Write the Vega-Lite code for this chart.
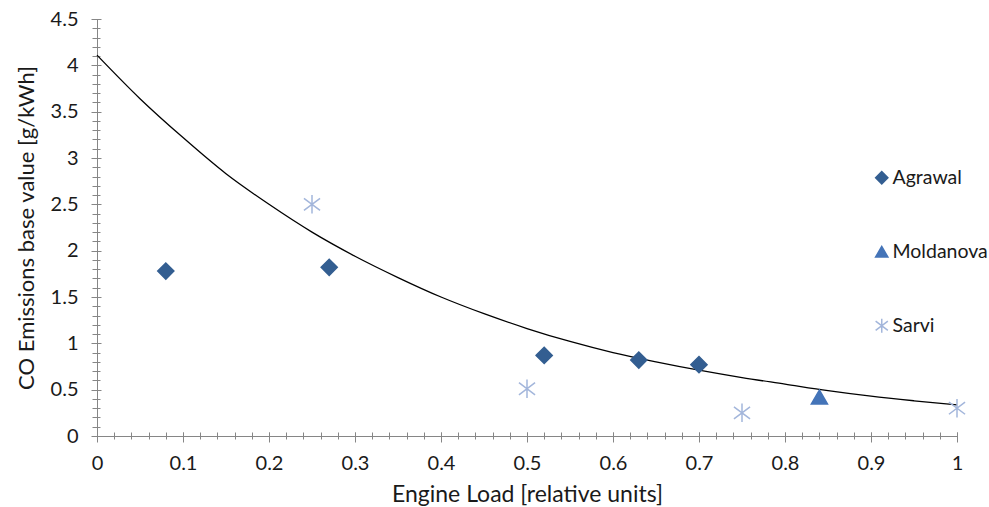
{
  "$schema": "https://vega.github.io/schema/vega-lite/v6.json",
  "width": 860,
  "height": 417,
  "autosize": {"type": "none"},
  "padding": {"left": 97, "top": 19, "right": 32, "bottom": 71},
  "background": "white",
  "config": {"view": {"stroke": null}, "font": "Lato"},
  "datasets": {
    "points": [
      {"series": "Agrawal", "load": 0.08, "co": 1.78},
      {"series": "Agrawal", "load": 0.27, "co": 1.82},
      {"series": "Agrawal", "load": 0.52, "co": 0.87},
      {"series": "Agrawal", "load": 0.63, "co": 0.82},
      {"series": "Agrawal", "load": 0.70, "co": 0.77},
      {"series": "Moldanova", "load": 0.84, "co": 0.42},
      {"series": "Sarvi", "load": 0.25, "co": 2.5},
      {"series": "Sarvi", "load": 0.50, "co": 0.51},
      {"series": "Sarvi", "load": 0.75, "co": 0.25},
      {"series": "Sarvi", "load": 1.00, "co": 0.30}
    ],
    "curve": [
      {"load": 0.0, "co": 4.11},
      {"load": 0.05, "co": 3.64},
      {"load": 0.1, "co": 3.22},
      {"load": 0.15, "co": 2.83},
      {"load": 0.2, "co": 2.5},
      {"load": 0.25, "co": 2.2},
      {"load": 0.3, "co": 1.94},
      {"load": 0.35, "co": 1.71},
      {"load": 0.4, "co": 1.5},
      {"load": 0.45, "co": 1.32},
      {"load": 0.5, "co": 1.16},
      {"load": 0.55, "co": 1.02},
      {"load": 0.6, "co": 0.9},
      {"load": 0.65, "co": 0.8},
      {"load": 0.7, "co": 0.71},
      {"load": 0.75, "co": 0.63},
      {"load": 0.8, "co": 0.56},
      {"load": 0.85, "co": 0.49},
      {"load": 0.9, "co": 0.43},
      {"load": 0.95, "co": 0.38},
      {"load": 1.0, "co": 0.335}
    ]
  },
  "layer": [
    {
      "data": {"name": "curve"},
      "mark": {"type": "line", "color": "#000000", "strokeWidth": 1.3, "interpolate": "monotone"},
      "encoding": {
        "x": {
          "field": "load", "type": "quantitative",
          "scale": {"domain": [0, 1], "nice": false, "zero": true},
          "axis": {
            "orient": "bottom", "domain": true, "domainColor": "#868686", "domainWidth": 1,
            "ticks": false, "tickSize": 0, "grid": false,
            "values": [0, 0.1, 0.2, 0.3, 0.4, 0.5, 0.6, 0.7, 0.8, 0.9, 1],
            "format": "~g", "labelFontSize": 20, "labelColor": "#1a1a1a", "labelPadding": 17,
            "labelFlush": false,
            "title": "Engine Load [relative units]", "titleFontSize": 23, "titleFontWeight": "normal",
            "titleColor": "#1a1a1a", "titlePadding": 10
          }
        },
        "y": {
          "field": "co", "type": "quantitative",
          "scale": {"domain": [0, 4.5], "nice": false, "zero": true},
          "axis": {
            "orient": "left", "domain": true, "domainColor": "#868686", "domainWidth": 1,
            "ticks": false, "tickSize": 0, "grid": false,
            "values": [0, 0.5, 1, 1.5, 2, 2.5, 3, 3.5, 4, 4.5],
            "format": "~g", "labelFontSize": 20, "labelColor": "#1a1a1a", "labelPadding": 19,
            "labelFlush": false,
            "title": "CO Emissions base value [g/kWh]", "titleFontSize": 22, "titleFontWeight": "normal",
            "titleColor": "#1a1a1a", "titlePadding": 12
          }
        }
      }
    },
    {
      "data": {"name": "points"},
      "mark": {"type": "point", "filled": true, "opacity": 1, "size": 260, "strokeWidth": 1.5},
      "encoding": {
        "x": {
          "field": "load", "type": "quantitative",
          "scale": {"domain": [0, 1], "nice": false},
          "axis": {
            "orient": "bottom", "domain": false, "labels": false, "ticks": true, "tickSize": 10,
            "offset": -4, "tickColor": "#868686", "grid": false, "title": null,
            "values": [0, 0.1, 0.2, 0.3, 0.4, 0.5, 0.6, 0.7, 0.8, 0.9, 1]
          }
        },
        "y": {
          "field": "co", "type": "quantitative",
          "scale": {"domain": [0, 4.5], "nice": false},
          "axis": {
            "orient": "left", "domain": false, "labels": false, "ticks": true, "tickSize": 10,
            "offset": -4, "tickColor": "#868686", "grid": false, "title": null,
            "values": [0, 0.5, 1, 1.5, 2, 2.5, 3, 3.5, 4, 4.5]
          }
        },
        "color": {
          "field": "series", "type": "nominal",
          "scale": {"domain": ["Agrawal", "Moldanova", "Sarvi"], "range": ["#335E91", "#4474B8", "#A3B6DB"]},
          "legend": {
            "title": null, "orient": "none", "legendX": 775, "legendY": 149,
            "symbolSize": 150, "symbolStrokeWidth": 1.5, "labelFontSize": 19.5, "labelColor": "#1a1a1a",
            "rowPadding": 53, "labelOffset": 1
          }
        },
        "stroke": {
          "field": "series", "type": "nominal",
          "scale": {"domain": ["Agrawal", "Moldanova", "Sarvi"], "range": ["#335E91", "#4474B8", "#A3B6DB"]},
          "legend": {
            "title": null, "orient": "none", "legendX": 775, "legendY": 149,
            "symbolSize": 150, "symbolStrokeWidth": 1.5, "labelFontSize": 19.5, "labelColor": "#1a1a1a",
            "rowPadding": 53, "labelOffset": 1
          }
        },
        "shape": {
          "field": "series", "type": "nominal",
          "scale": {"domain": ["Agrawal", "Moldanova", "Sarvi"], "range": ["diamond", "triangle-up", "M0,-1.15L0,1.15M-1,-0.75L1,0.75M-1,0.75L1,-0.75"]},
          "legend": {
            "title": null, "orient": "none", "legendX": 775, "legendY": 149,
            "symbolSize": 150, "symbolStrokeWidth": 1.5, "labelFontSize": 19.5, "labelColor": "#1a1a1a",
            "rowPadding": 53, "labelOffset": 1
          }
        }
      }
    },
    {
      "data": {"name": "curve"},
      "mark": {"type": "line", "strokeOpacity": 0},
      "encoding": {
        "x": {
          "field": "load", "type": "quantitative",
          "scale": {"domain": [0, 1], "nice": false},
          "axis": {
            "orient": "bottom", "domain": false, "labels": false, "ticks": true, "tickSize": 7,
            "offset": -4, "tickColor": "#868686", "grid": false, "title": null,
            "values": [0, 0.02, 0.04, 0.06, 0.08, 0.1, 0.12, 0.14, 0.16, 0.18, 0.2, 0.22, 0.24, 0.26, 0.28, 0.3, 0.32, 0.34, 0.36, 0.38, 0.4, 0.42, 0.44, 0.46, 0.48, 0.5, 0.52, 0.54, 0.56, 0.58, 0.6, 0.62, 0.64, 0.66, 0.68, 0.7, 0.72, 0.74, 0.76, 0.78, 0.8, 0.82, 0.84, 0.86, 0.88, 0.9, 0.92, 0.94, 0.96, 0.98, 1]
          }
        },
        "y": {
          "field": "co", "type": "quantitative",
          "scale": {"domain": [0, 4.5], "nice": false},
          "axis": {
            "orient": "left", "domain": false, "labels": false, "ticks": true, "tickSize": 8,
            "offset": -3, "tickColor": "#868686", "grid": false, "title": null,
            "values": [0, 0.1, 0.2, 0.3, 0.4, 0.5, 0.6, 0.7, 0.8, 0.9, 1, 1.1, 1.2, 1.3, 1.4, 1.5, 1.6, 1.7, 1.8, 1.9, 2, 2.1, 2.2, 2.3, 2.4, 2.5, 2.6, 2.7, 2.8, 2.9, 3, 3.1, 3.2, 3.3, 3.4, 3.5, 3.6, 3.7, 3.8, 3.9, 4, 4.1, 4.2, 4.3, 4.4, 4.5]
          }
        }
      }
    }
  ],
  "resolve": {"axis": {"x": "independent", "y": "independent"}}
}
